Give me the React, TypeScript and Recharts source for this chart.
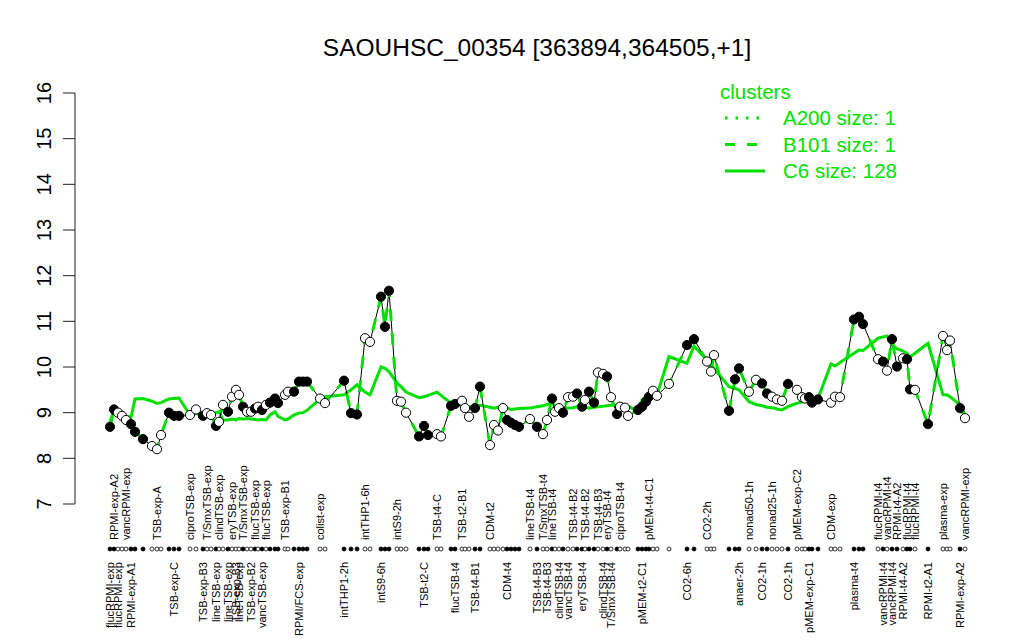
import React from 'react';
import { ComposedChart, Line, XAxis, YAxis, Legend } from 'recharts';

// position of each sample along the x axis (replicates sit close together)
const samplePos = [
  0, 0.8, 1.6, 2.4, 3.2, 4.2, 5, 6.6, 8.4, 9.4,
  10.2, 11.8, 12.8, 13.8, 16, 17.2, 18.6, 19.4, 20.2, 21.2,
  21.8, 22.6, 23.6, 24.4, 25.2, 25.8, 26.6, 27.4, 28.2, 29,
  29.6, 30.4, 31.2, 32, 33, 33.6, 35, 35.6, 36.8, 37.8,
  38.6, 39.4, 42, 43, 46.8, 48.2, 49.4, 51, 52, 54.2,
  55, 55.8, 57.4, 58.2, 59.2, 61.8, 62.8, 63.6, 65.4, 66.2,
  68.2, 69, 70.4, 71, 71.8, 73, 74, 76, 76.8, 77.6,
  78.6, 79.4, 80.2, 81, 81.8, 84, 85.4, 86.6, 87.4, 88.4,
  89, 89.8, 90.6, 91.6, 92.6, 93.4, 94.4, 95, 95.8, 96.8,
  97.6, 98.6, 99.4, 100.2, 101.4, 102, 103, 103.6, 105.6, 106.4,
  107.2, 107.8, 108.6, 109.4, 111.8, 115.4, 116.8, 119.4, 120.2, 120.8,
  123.8, 125, 125.8, 127.8, 129.2, 130.4, 131.4, 132.4, 133.4, 134.4,
  135.6, 137.4, 138.4, 139, 139.8, 140.4, 141.6, 144.2, 145, 146,
  148.8, 149.8, 150.6, 153.6, 154.6, 155.4, 156.4, 157.4, 158.6, 159.4,
  160, 161, 163.6, 166.6, 167.4, 168, 170, 171,
];

// expression of SAOUHSC_00354 (also the A200 / B101 cluster profile)
const geneExpr = [
  8.69, 9.07, 9.0, 8.93, 8.84, 8.75, 8.58, 8.42, 8.27, 8.2,
  8.51, 9.0, 8.93, 8.93, 8.95, 9.07, 8.93, 8.99, 8.95, 8.71,
  8.8, 9.17, 9.02, 9.35, 9.5, 9.39, 9.13, 9.02, 9.02, 9.09,
  9.13, 9.06, 9.17, 9.22, 9.31, 9.21, 9.39, 9.46, 9.46, 9.68,
  9.68, 9.68, 9.31, 9.21, 9.7, 8.99, 8.96, 10.63, 10.55, 11.54,
  10.88, 11.67, 9.26, 9.24, 9.0, 8.48, 8.71, 8.51, 8.53, 8.48,
  9.15, 9.19, 9.26, 9.1, 8.91, 9.1, 9.57, 8.29, 8.73, 8.61,
  9.1, 8.84, 8.78, 8.73, 8.69, 8.86, 8.69, 8.53, 8.84, 9.31,
  9.02, 9.1, 9.0, 9.34, 9.35, 9.42, 9.13, 9.28, 9.46, 9.22,
  9.88, 9.85, 9.79, 9.34, 8.97, 9.13, 9.11, 8.93, 9.06, 9.13,
  9.24, 9.35, 9.48, 9.37, 9.63, 10.48, 10.61, 10.12, 9.9, 10.26,
  9.04, 9.73, 9.97, 9.46, 9.72, 9.64, 9.42, 9.35, 9.29, 9.26,
  9.63, 9.5, 9.34, 9.31, 9.34, 9.22, 9.29, 9.22, 9.35, 9.34,
  11.04, 11.1, 10.94, 10.17, 10.12, 9.92, 10.61, 10.01, 10.19, 10.17,
  9.51, 9.5, 8.75, 10.68, 10.37, 10.58, 9.1, 8.88,
];

// mean profile of cluster C6
const c6Mean = [
  8.8, 9.05, 9.02, 8.95, 8.92, 8.9, 9.3, 9.31, 9.25, 9.2,
  9.22, 9.3, 9.31, 9.32, 8.95, 8.98, 8.95, 8.95, 8.96, 9.0,
  9.02, 8.84, 8.84, 8.86, 8.84, 8.87, 8.86, 8.87, 8.86, 8.85,
  8.84, 8.85, 8.84, 8.95, 9.02, 8.92, 8.84, 8.86, 8.95, 8.99,
  9.0, 9.05, 9.3, 9.35, 9.39, 9.5, 9.61, 9.45, 9.39, 10.0,
  9.97, 9.9, 9.65, 9.57, 9.45, 9.33, 9.35, 9.38, 9.45, 9.38,
  9.21, 9.18, 9.15, 9.14, 9.13, 9.13, 9.16, 9.12, 9.1, 9.12,
  9.15, 9.1, 9.07, 9.08, 9.09, 9.1, 9.13, 9.15, 9.18, 9.21,
  9.15, 9.11, 9.1, 9.1, 9.11, 9.13, 9.15, 9.12, 9.1, 9.12,
  9.13, 9.14, 9.15, 9.16, 9.17, 9.17, 9.16, 9.15, 9.02, 9.28,
  9.35, 9.37, 9.38, 9.39, 10.23, 10.08, 10.46, 10.15, 10.05, 9.97,
  9.57, 9.53, 9.5, 9.24, 9.18, 9.15, 9.12, 9.11, 9.08, 9.06,
  9.13, 9.21, 9.23, 9.25, 9.26, 9.28, 9.31, 10.07, 10.02, 10.1,
  10.3, 10.37, 10.36, 10.63, 10.66, 10.68, 10.48, 10.4, 10.35, 10.3,
  10.22, 10.3, 10.52, 9.39, 9.39, 9.35, 9.17, 8.95,
];

// 1 = filled (black) marker, 0 = open marker
const filledMarker = [
  1, 1, 0, 0, 0, 1, 1, 1, 0, 0,
  0, 1, 1, 1, 0, 0, 1, 0, 0, 1,
  0, 0, 1, 0, 0, 0, 1, 0, 0, 1,
  0, 1, 0, 1, 1, 1, 0, 0, 1, 1,
  1, 1, 0, 0, 1, 1, 1, 0, 0, 1,
  1, 1, 0, 0, 0, 1, 1, 1, 0, 0,
  1, 1, 0, 0, 0, 1, 1, 0, 0, 0,
  0, 1, 1, 1, 1, 0, 1, 0, 0, 1,
  0, 0, 1, 0, 0, 1, 1, 0, 1, 1,
  0, 0, 1, 0, 1, 0, 0, 0, 1, 1,
  1, 1, 0, 0, 0, 1, 1, 0, 0, 0,
  1, 1, 1, 0, 0, 1, 1, 0, 0, 0,
  1, 0, 0, 0, 1, 1, 1, 0, 0, 0,
  1, 1, 1, 0, 1, 0, 1, 1, 0, 1,
  1, 0, 1, 0, 0, 0, 1, 0,
];

// sample labels shown under the marker row: [sample index, name]
const bottomLabels: [number, string][] = [
  [0, 'flucRPMI-exp'], [2, 'flucRPMI-exp'], [5, 'RPMI-exp-A1'], [12, 'TSB-exp-C'],
  [16, 'TSB-exp-B3'], [19, 'lineTSB-exp'], [22, 'lineTSB-exp'], [24, 'TSB-exp-B3'],
  [25, 'lineTSB-exp'], [28, 'TSB-exp-B2'], [31, 'vancTSB-exp'], [39, 'RPMI/FCS-exp'],
  [44, 'intTHP1-2h'], [49, 'intS9-6h'], [56, 'TSB-t2-C'], [61, 'flucTSB-t4'],
  [65, 'TSB-t4-B1'], [71, 'CDM-t4'], [76, 'TSB-t4-B3'], [78, 'TSB-t4-B3'],
  [81, 'clindTSB-t4'], [83, 'vancTSB-t4'], [86, 'eryTSB-t4'], [91, 'clindTSB-t4'],
  [93, 'T/SmxTSB-t4'], [99, 'pMEM-t2-C1'], [105, 'CO2-6h'], [112, 'anaer-2h'],
  [115, 'CO2-1h'], [120, 'CO2-1h'], [124, 'pMEM-exp-C1'], [130, 'plasma-t4'],
  [134, 'vancRPMI-t4'], [136, 'vancRPMI-t4'], [138, 'RPMI-t4-A2'], [142, 'RPMI-t2-A1'],
  [146, 'RPMI-exp-A2'],
];

// sample labels shown above the marker row
const topLabels: [number, string][] = [
  [1, 'RPMI-exp-A2'], [4, 'vancRPMI-exp'], [9, 'TSB-exp-A'], [14, 'ciproTSB-exp'],
  [17, 'T/SmxTSB-exp'], [20, 'clindTSB-exp'], [23, 'eryTSB-exp'], [26, 'T/SmxTSB-exp'],
  [29, 'flucTSB-exp'], [32, 'flucTSB-exp'], [36, 'TSB-exp-B1'], [42, 'colist-exp'],
  [47, 'intTHP1-6h'], [52, 'intS9-2h'], [58, 'TSB-t4-C'], [62, 'TSB-t2-B1'],
  [67, 'CDM-t2'], [75, 'lineTSB-t4'], [77, 'T/SmxTSB-t4'], [79, 'lineTSB-t4'],
  [84, 'TSB-t4-B2'], [87, 'TSB-t4-B2'], [90, 'TSB-t4-B3'], [92, 'eryTSB-t4'],
  [95, 'ciproTSB-t4'], [101, 'pMEM-t4-C1'], [107, 'CO2-2h'], [113, 'nonad50-1h'],
  [117, 'nonad25-1h'], [121, 'pMEM-exp-C2'], [127, 'CDM-exp'], [133, 'flucRPMI-t4'],
  [135, 'vancRPMI-t4'], [137, 'RPMI-t4-A2'], [139, 'flucRPMI-t4'], [141, 'flucRPMI-t4'],
  [143, 'plasma-exp'], [147, 'vancRPMI-exp'],
];

const yTicks = [7, 8, 9, 10, 11, 12, 13, 14, 15, 16];
const legendItems = [
  { name: 'A200 size: 1', dash: '2.5 8' },
  { name: 'B101 size: 1', dash: '10 12' },
  { name: 'C6 size: 128', dash: '' },
];

const GREEN = '#00e000';
const FONT = '"Liberation Sans", Arial, Helvetica, sans-serif';

const topByIdx = new Map(topLabels);
const bottomByIdx = new Map(bottomLabels);

const data = samplePos.map((x, i) => ({
  x,
  gene: geneExpr[i],
  c6: c6Mean[i],
  filled: filledMarker[i] === 1,
  top: topByIdx.get(i),
  bottom: bottomByIdx.get(i),
}));

// marker row + rotated sample names under the plot
function SampleTick(props: any) {
  const { x, y, index } = props;
  const d = data[index];
  if (!d) return null;
  const topY = y + 36;
  const botY = y + 58;
  return (
    <g>
      <circle cx={x} cy={y + 45} r={2} fill={d.filled ? '#000' : '#fff'} stroke="#000" strokeWidth={0.8} />
      {d.top && (
        <text x={x} y={topY} dy="0.35em" textAnchor="start" transform={`rotate(-90, ${x}, ${topY})`}
          fontSize={11} fontFamily={FONT} fill="#000">{d.top}</text>
      )}
      {d.bottom && (
        <text x={x} y={botY} dy="0.35em" textAnchor="end" transform={`rotate(-90, ${x}, ${botY})`}
          fontSize={11} fontFamily={FONT} fill="#000">{d.bottom}</text>
      )}
    </g>
  );
}

function ValueTick(props: any) {
  const { x, y, payload } = props;
  const tx = x - 19;
  return (
    <text x={tx} y={y} dy="0.35em" textAnchor="middle" transform={`rotate(-90, ${tx}, ${y})`}
      fontSize={20} fontFamily={FONT} fill="#000">{payload.value}</text>
  );
}

function GeneDot(props: any) {
  const { cx, cy, index } = props;
  if (cx == null || cy == null) return <g key={index} />;
  return (
    <circle key={index} cx={cx} cy={cy} r={4.6} fill={data[index].filled ? '#000' : '#fff'}
      stroke="#000" strokeWidth={1} />
  );
}

function ClusterLegend() {
  return (
    <svg width={300} height={120} style={{ fontFamily: FONT }}>
      <text x={20} y={29} fontSize={20.5} fill={GREEN}>clusters</text>
      {legendItems.map((item, i) => {
        const cy = 48 + i * 26.5;
        return (
          <g key={item.name}>
            <line x1={25} x2={item.dash === '' ? 65 : 60} y1={cy} y2={cy} stroke={GREEN} strokeWidth={3}
              strokeDasharray={item.dash || undefined} />
            <text x={83} y={cy + 7} fontSize={20.5} fill={GREEN}>{item.name}</text>
          </g>
        );
      })}
    </svg>
  );
}

export default function App() {
  return (
    <div style={{ position: 'absolute', left: 0, top: 0, width: 1024, height: 640, background: '#fff', fontFamily: FONT }}>
      <div style={{ position: 'absolute', left: 75, top: 36, width: 924, textAlign: 'center', fontSize: 24.5, lineHeight: '24px', color: '#000' }}>
        SAOUHSC_00354 [363894,364505,+1]
      </div>
      <ComposedChart width={1024} height={640} data={data} margin={{ top: 93, right: 25, bottom: 0, left: 0 }}>
        <XAxis dataKey="x" type="number" domain={[-7, 177.8]} ticks={samplePos} interval={0}
          height={136} tickSize={0} tickMargin={0} tickLine={false} axisLine={false} tick={<SampleTick />} />
        <YAxis type="number" domain={[7, 16]} ticks={yTicks} width={75} tickSize={12} tickMargin={0}
          stroke="#222" tick={<ValueTick />} />
        <Legend verticalAlign="middle" align="center" content={<ClusterLegend />}
          wrapperStyle={{ position: 'absolute', left: 700, top: 70, width: 300, height: 120 }} />
        <Line type="linear" dataKey="c6" stroke={GREEN} strokeWidth={3} dot={false} isAnimationActive={false} />
        <Line type="linear" dataKey="gene" stroke="#000" strokeWidth={1} dot={false} isAnimationActive={false} />
        <Line type="linear" dataKey="gene" stroke={GREEN} strokeWidth={3} strokeDasharray="12 12" dot={false} isAnimationActive={false} />
        <Line type="linear" dataKey="gene" stroke="none" dot={GeneDot} activeDot={false} isAnimationActive={false} />
      </ComposedChart>
    </div>
  );
}
